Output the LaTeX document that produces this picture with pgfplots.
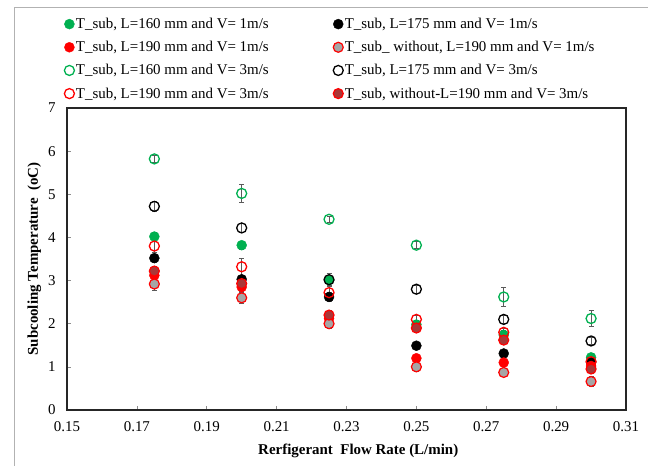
\documentclass[border=0pt]{standalone}
\usepackage{pgfplots}
\pgfplotsset{compat=1.18}
\usepackage{fontspec}
\setmainfont{Liberation Serif}
\definecolor{xlgreen}{RGB}{0,176,80}
\definecolor{xlred}{RGB}{255,0,0}
\definecolor{xlgray}{RGB}{166,166,166}
\definecolor{xldred}{RGB}{170,55,55}
\definecolor{errc}{RGB}{90,90,90}
\begin{document}
\begin{tikzpicture}[x=1bp,y=1bp]
\useasboundingbox (0,0) rectangle (648,466);
\draw[black!30, line width=0.8bp] (14,0) -- (14,459) -- (648,459);
\begin{axis}[
  at={(67bp,56bp)}, anchor=south west,
  scale only axis, width=559bp, height=302bp,
  xmin=0.15, xmax=0.31, ymin=0, ymax=7,
  xtick={0.15,0.17,0.19,0.21,0.23,0.25,0.27,0.29,0.31},
  ytick={0,1,2,3,4,5,6,7},
  /pgf/number format/assume math mode=true,
  ticklabel style={font=\fontsize{15}{17}\selectfont},
  xticklabel style={yshift=-8bp, /pgf/number format/.cd, fixed, fixed zerofill, precision=2},
  yticklabel style={xshift=-8bp},
  tick align=inside, xtick pos=lower, ytick pos=left,
  major tick length=4bp,
  tick style={black!45, line width=0.6bp},
  axis line style={black!85, line width=1.5bp},
  xlabel={\textbf{Rerfigerant\ \ Flow Rate (L/min)}},
  ylabel={\textbf{Subcooling Temperature\ \ (oC)}},
  xlabel style={font=\fontsize{15}{17}\selectfont, at={(axis description cs:0.521,-0.1)}, anchor=north},
  ylabel style={font=\fontsize{15}{17}\selectfont, at={(axis description cs:-0.04,0.5)}, anchor=south},
  legend columns=2,
  legend cell align=left,
  legend image code/.code={\draw[#1] plot coordinates {(0bp,0bp)};},
  legend style={at={(axis description cs:-0.005,1.303)}, anchor=north west,
    draw=none, fill=none, font=\fontsize{15}{17}\selectfont,
    row sep=8.3bp, inner sep=0pt,
    /tikz/column 2/.style={column sep=63bp},
    nodes={inner sep=1.5bp}},
  error bars/y dir=both, error bars/y explicit,
  error bars/error bar style={errc, line width=0.6bp},
  error bars/error mark options={rotate=90, errc, mark size=2.5bp, line width=0.6bp},
]
% 1: green filled L160 V1
\addplot[only marks, mark=*, mark size=5bp, mark options={draw=xlgreen, fill=xlgreen}]
  coordinates {(0.175,4.02) +- (0,0.1) (0.2,3.82) +- (0,0.1) (0.225,3.01) +- (0,0.12)
               (0.25,1.98) +- (0,0.1) (0.275,1.74) +- (0,0.1) (0.3,1.22) +- (0,0.1)};
\addlegendentry{T\_sub, L=160 mm and V= 1m/s}
% 2: black filled L175 V1
\addplot[only marks, mark=*, mark size=5bp, mark options={draw=black, fill=black}]
  coordinates {(0.175,3.52) +- (0,0.1) (0.2,3.03) +- (0,0.1) (0.225,2.62) +- (0,0.1)
               (0.25,1.49) +- (0,0.08) (0.275,1.31) +- (0,0.08) (0.3,1.1) +- (0,0.08)};
\addlegendentry{T\_sub, L=175 mm and V= 1m/s}
% 3: red filled L190 V1
\addplot[only marks, mark=*, mark size=5bp, mark options={draw=xlred, fill=xlred}]
  coordinates {(0.175,3.12) +- (0,0.1) (0.2,2.85) +- (0,0.1) (0.225,2.12) +- (0,0.1)
               (0.25,1.2) +- (0,0.08) (0.275,1.1) +- (0,0.08) (0.3,1.02) +- (0,0.08)};
\addlegendentry{T\_sub, L=190 mm and V= 1m/s}
% 4: gray with red border, without V1
\addplot[only marks, mark=*, mark size=5bp, mark options={draw=xlred, fill=xlgray, line width=1.2bp}]
  coordinates {(0.175,2.92) +- (0,0.15) (0.2,2.6) +- (0,0.12) (0.225,2.0) +- (0,0.1)
               (0.25,1.0) +- (0,0.1) (0.275,0.87) +- (0,0.1) (0.3,0.66) +- (0,0.12)};
\addlegendentry{T\_sub\_ without, L=190 mm and V= 1m/s}
% 5: green open L160 V3
\addplot[only marks, mark=o, mark size=5bp, mark options={draw=xlgreen, line width=1.3bp}]
  coordinates {(0.175,5.82) +- (0,0.08) (0.2,5.02) +- (0,0.2) (0.225,4.42) +- (0,0.06)
               (0.25,3.82) +- (0,0.08) (0.275,2.62) +- (0,0.22) (0.3,2.12) +- (0,0.18)};
\addlegendentry{T\_sub, L=160 mm and V= 3m/s}
% 6: black open L175 V3
\addplot[only marks, mark=o, mark size=5bp, mark options={draw=black, line width=1.3bp}]
  coordinates {(0.175,4.72) +- (0,0.12) (0.2,4.22) +- (0,0.1) (0.225,3.02) +- (0,0.15)
               (0.25,2.8) +- (0,0.1) (0.275,2.1) +- (0,0.1) (0.3,1.6) +- (0,0.08)};
\addlegendentry{T\_sub, L=175 mm and V= 3m/s}
% 7: red open L190 V3
\addplot[only marks, mark=o, mark size=5bp, mark options={draw=xlred, line width=1.3bp}]
  coordinates {(0.175,3.8) +- (0,0.15) (0.2,3.32) +- (0,0.2) (0.225,2.72) +- (0,0.15)
               (0.25,2.1) +- (0,0.1) (0.275,1.8) +- (0,0.1) (0.3,1.12) +- (0,0.1)};
\addlegendentry{T\_sub, L=190 mm and V= 3m/s}
% 8: dark red filled, without V3
\addplot[only marks, mark=*, mark size=5bp, mark options={draw=xlred, fill=xldred, line width=1.2bp}]
  coordinates {(0.175,3.22) +- (0,0.1) (0.2,2.93) +- (0,0.1) (0.225,2.2) +- (0,0.1)
               (0.25,1.9) +- (0,0.1) (0.275,1.62) +- (0,0.1) (0.3,0.95) +- (0,0.1)};
\addlegendentry{T\_sub, without-L=190 mm and V= 3m/s}
\end{axis}
\end{tikzpicture}
\end{document}
